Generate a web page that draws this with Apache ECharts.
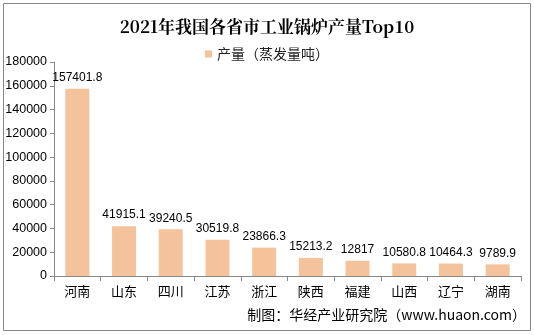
<!DOCTYPE html>
<html>
<head>
<meta charset="utf-8">
<script src="https://cdn.jsdelivr.net/npm/echarts@6/dist/echarts.min.js"></script>
<style>
  html, body { margin: 0; padding: 0; background: #fff; }
  #chart { width: 534px; height: 335px; }
</style>
</head>
<body>
<div id="chart"></div>
<script>
// 2021 industrial boiler output by province, top 10 (steam tonnage)
const provinces = ['河南', '山东', '四川', '江苏', '浙江', '陕西', '福建', '山西', '辽宁', '湖南'];
const output = [157401.8, 41915.1, 39240.5, 30519.8, 23866.3, 15213.2, 12817, 10580.8, 10464.3, 9789.9];
const seriesName = '产量（蒸发量吨）';
const yTicks = { min: 0, max: 180000, interval: 20000 };

const chart = echarts.init(document.getElementById('chart'));
chart.setOption({
  animation: false,
  backgroundColor: '#fff',
  title: {
    text: '2021年我国各省市工业锅炉产量Top10',
    left: 'center',
    top: 13,
    textStyle: {
      fontFamily: 'Noto Serif CJK SC, serif',
      fontSize: 17,
      fontWeight: 'bold',
      color: '#000'
    }
  },
  legend: {
    top: 42,
    left: 'center',
    itemWidth: 7,
    itemHeight: 7,
    itemGap: 4,
    icon: 'rect',
    textStyle: { fontSize: 14, color: '#222', fontFamily: 'Noto Sans CJK SC, sans-serif' }
  },
  grid: { left: 54, right: 13, top: 62, bottom: 59 },
  xAxis: {
    type: 'category',
    data: provinces,
    axisLine: { lineStyle: { color: '#888' } },
    axisTick: { show: true, alignWithLabel: false, length: 5, lineStyle: { color: '#888' } },
    axisLabel: { color: '#000', fontSize: 13, margin: 9, fontFamily: 'Noto Sans CJK SC, sans-serif' }
  },
  yAxis: {
    type: 'value',
    min: yTicks.min,
    max: yTicks.max,
    interval: yTicks.interval,
    axisLine: { show: true, lineStyle: { color: '#888' } },
    axisTick: { show: true, length: 4, lineStyle: { color: '#888' } },
    splitLine: { show: false },
    axisLabel: {
      color: '#000',
      fontSize: 12.5,
      margin: 7,
      fontFamily: 'Liberation Sans, Arial, sans-serif',
      formatter: (v) => String(v)
    }
  },
  series: [{
    name: seriesName,
    type: 'bar',
    data: output,
    barWidth: 24,
    itemStyle: { color: '#F4C39B' },
    label: {
      show: true,
      position: 'top',
      distance: 5,
      color: '#000',
      fontSize: 12,
      fontFamily: 'Liberation Sans, Arial, sans-serif'
    }
  }],
  graphic: [
    {
      type: 'rect',
      shape: { x: 3.5, y: 3.5, width: 527, height: 327 },
      style: { fill: 'none', stroke: '#888', lineWidth: 1 },
      silent: true
    },
    {
      type: 'text',
      right: 8,
      top: 308,
      style: {
        text: '制图：华经产业研究院（www.huaon.com）',
        fontSize: 14,
        fill: '#000',
        fontFamily: 'Noto Sans CJK SC, sans-serif'
      }
    }
  ]
});
</script>
</body>
</html>
